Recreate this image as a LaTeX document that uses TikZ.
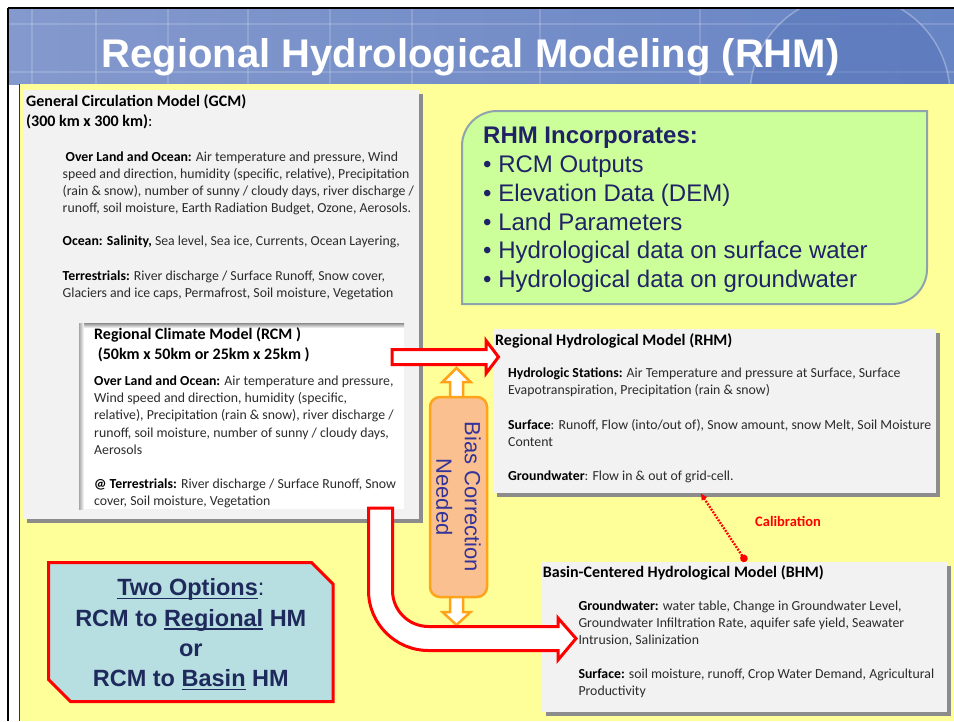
\documentclass[tikz,border=0pt]{standalone}
\usepackage{fontspec}
\setmainfont{Carlito}
\newfontfamily\arialf{Liberation Sans}
\usetikzlibrary{arrows.meta,shadows}
\definecolor{slideyellow}{HTML}{FFFF99}
\definecolor{boxgray}{HTML}{F2F2F2}
\definecolor{greenfill}{HTML}{CCFF99}
\definecolor{greenedge}{HTML}{8FA3AE}
\definecolor{navy}{HTML}{1F2266}
\definecolor{biasfill}{HTML}{FAC090}
\definecolor{biasedge}{HTML}{FFA31A}
\definecolor{biastext}{HTML}{333399}
\definecolor{optfill}{HTML}{B7DEE0}
\definecolor{opttext}{HTML}{1F2A5C}
\definecolor{bodytext}{HTML}{2B2B2B}
\definecolor{hdrL}{HTML}{8499CD}
\definecolor{hdrR}{HTML}{6784C4}
\definecolor{hdrGlobe}{HTML}{5574B8}
\newcommand{\mylines}[1]{\begin{tabular}[t]{@{}l@{}}#1\end{tabular}}
\newcommand{\mycenter}[1]{\begin{tabular}[t]{@{}c@{}}#1\end{tabular}}
\newcommand{\myul}[1]{\setbox0\hbox{#1}\rlap{\rule[-3.5pt]{\wd0}{1.6pt}}\box0\relax}
\newcommand{\bodyfont}{\fontsize{13.8}{17.3}\selectfont}
\newcommand{\headfont}{\fontsize{16}{20}\selectfont\bfseries}
\tikzset{
  body/.style={inner sep=0pt, anchor=base west, font=\bodyfont, text=bodytext},
  heading/.style={inner sep=0pt, anchor=base west, font=\headfont, text=black},
  panel/.style={fill=boxgray, draw=none, inner sep=0pt, anchor=north west,
    drop shadow={shadow xshift=4pt, shadow yshift=-4pt, fill=black!45, opacity=1}},
  blockarrow/.style={draw=red, line width=3pt, fill=white, line join=miter},
  biasarrow/.style={draw=biasedge, line width=2.5pt, fill=white, line join=miter},
}
\begin{document}
\begin{tikzpicture}[x=1pt,y=-1pt]
\useasboundingbox (0,0) rectangle (954,721);
\fill[white] (0,0) rectangle (954,721);
% header
\shade[left color=hdrL, right color=hdrR] (9,9) rectangle (954,84);
\begin{scope}
  \clip (9,9) rectangle (954,84);
  \foreach \gx in {32,96,168,248,330,412,540,700}
    \draw[white, opacity=.16, line width=1.2pt] (\gx,9) -- (\gx,84);
  \foreach \gy in {24,72}
    \draw[white, opacity=.16, line width=1.2pt] (9,\gy) -- (954,\gy);
  \fill[hdrGlobe, opacity=.45] (850,95) circle[radius=100];
  \draw[white, opacity=.3, line width=1.5pt] (850,95) circle[radius=100];
\end{scope}
\draw[black, line width=1.5pt] (8,8) -- (954,8);
\draw[black, line width=1.5pt] (8,8) -- (8,721);
% slide body
\fill[slideyellow] (20,84) rectangle (954,721);
\draw[black!80, line width=1pt] (19.5,84) -- (19.5,721);
\node[font=\arialf\bfseries\fontsize{40}{48}\selectfont, text=white, anchor=base, inner sep=0pt]
  (title) at (470.5,67) {Regional Hydrological Modeling (RHM)};

% GCM panel
\node[panel, minimum width=396pt, minimum height=429pt] (gcm) at (22.5,90) {};
% RCM panel
\node[fill=white, inner sep=0pt, anchor=north west, minimum width=325pt, minimum height=186pt] (rcm) at (79,323) {};
\shade[top color=black!45, bottom color=white] (79,323) rectangle (404,328);
\shade[left color=black!35, right color=white] (79,323) rectangle (84,509);

% RHM panel
\node[panel, minimum width=443pt, minimum height=164pt] (rhm) at (493,329) {};
% BHM panel
\node[panel, minimum width=405pt, minimum height=150pt] (bhm) at (542,562) {};

% green box
\path[fill=greenfill, draw=greenedge, line width=2pt]
  (462,146) arc[start angle=180, end angle=270, radius=35] -- (927,111) -- (927,269)
  arc[start angle=0, end angle=90, radius=35] -- (462,304) -- cycle;
\node[inner sep=0pt, anchor=base west, text=navy, font=\arialf\fontsize{24}{28.9}\selectfont]
  (incorp) at (483,143.3) {\mylines{\textbf{RHM Incorporates:}\\
  \textbullet\ RCM Outputs\\
  \textbullet\ Elevation Data (DEM)\\
  \textbullet\ Land Parameters\\
  \textbullet\ Hydrological data on surface water\\
  \textbullet\ Hydrological data on groundwater}};

% two options box
\path[fill=optfill, draw=red, line width=3pt, line join=miter]
  (48.5,562.5) -- (311.5,562.5) -- (333,584) -- (333,701.5) -- (70.5,701.5) -- (48.5,679.5) -- cycle;
\node[inner sep=0pt, anchor=base, text=opttext, font=\arialf\bfseries\fontsize{23.5}{30.3}\selectfont]
  (options) at (190.8,595.7) {\mycenter{\myul{Two Options}{\mdseries:}\\
  RCM to \myul{Regional} HM\\ or\\ RCM to \myul{Basin} HM}};

% bias correction up-down arrow and box
\path[biasarrow] (456.5,368) -- (470.5,382) -- (463,382) -- (463,612) -- (470.5,612)
  -- (456.5,625) -- (442.5,612) -- (450,612) -- (450,382) -- (442.5,382) -- cycle;
\node[draw=biasedge, fill=biasfill, line width=2.5pt, rounded corners=10pt,
  minimum width=200pt, minimum height=57pt, rotate=-90, align=center, inner sep=0pt,
  text=biastext, font=\arialf\fontsize{22}{28.3}\selectfont]
  (bias) at (458.5,497) {Bias Correction\\Needed};

% GCM texts
\node[heading] (gcmt) at (26,106) {\mylines{General Circulation Model (GCM)\\(300 km x 300 km)\mdseries:}};
\node[body] (gcm1) at (62.5,161) {\mylines{\hspace*{3pt}\textbf{\color{black}Over Land and Ocean:} Air temperature and pressure,  Wind\\
speed and direction, humidity (specific, relative), Precipitation\\
(rain \& snow), number of sunny / cloudy days, river discharge /\\
runoff, soil moisture, Earth Radiation Budget, Ozone, Aerosols.}};
\node[body] (gcm2) at (62.5,245) {\textbf{\color{black}Ocean: Salinity,} Sea level, Sea ice, Currents, Ocean Layering,};
\node[body] (gcm3) at (62.5,280) {\mylines{\textbf{\color{black}Terrestrials:} River discharge / Surface Runoff, Snow cover,\\
Glaciers and ice caps, Permafrost, Soil moisture,  Vegetation}};

% RCM texts
\node[heading] (rcmt) at (94,339) {\mylines{Regional Climate Model (RCM )\\\hspace*{3.6pt}(50km x 50km or 25km x 25km )}};
\node[body, font=\fontsize{13.8}{17.1}\selectfont] (rcm1) at (94,385.7) {\mylines{\textbf{\color{black}Over Land and Ocean:} Air temperature and pressure,\\
Wind speed and direction, humidity (specific,\\
relative), Precipitation (rain \& snow), river discharge /\\
runoff, soil moisture,  number of sunny / cloudy days,\\
Aerosols}};
\node[body, font=\fontsize{13.8}{16.7}\selectfont] (rcm2) at (94,488.3) {\mylines{\textbf{\color{black}@ Terrestrials:} River discharge / Surface Runoff, Snow\\
cover, Soil moisture,  Vegetation}};

% RHM texts
\node[heading] (rhmt) at (495,345) {Regional Hydrological Model (RHM)};
\begin{scope}
  \clip (493,329) rectangle (936,493);
  \node[body, font=\fontsize{13.8}{17.5}\selectfont] (rhm1) at (508,377.3) {\mylines{\textbf{\color{black}Hydrologic Stations:} Air Temperature and pressure at Surface, Surface\\
  Evapotranspiration, Precipitation (rain \& snow)}};
  \node[body, font=\fontsize{13.8}{17.4}\selectfont] (rhm2) at (508,429.3) {\mylines{\textbf{\color{black}Surface}: Runoff, Flow (into/out of), Snow amount, snow Melt, Soil Moisture\\
  Content}};
  \node[body] (rhm3) at (508,480.7) {\textbf{\color{black}Groundwater}: Flow in \& out of grid-cell.};
\end{scope}

% BHM texts
\node[heading] (bhmt) at (542.7,577.3) {Basin-Centered Hydrological Model (BHM)};
\node[body, font=\fontsize{13.8}{16.8}\selectfont] (bhm1) at (578.3,610.7) {\mylines{\textbf{\color{black}Groundwater:} water table, Change in Groundwater Level,\\
Groundwater Infiltration Rate, aquifer safe yield, Seawater\\
Intrusion, Salinization}};
\node[body, font=\fontsize{13.8}{16.7}\selectfont] (bhm2) at (578.3,678.3) {\mylines{\textbf{\color{black}Surface:} soil moisture, runoff, Crop Water Demand, Agricultural\\
Productivity}};

% red block arrow RCM -> RHM
\path[blockarrow] (392,349.5) -- (486,349.5) -- (486,340.5) -- (498.5,357) -- (486,373.5)
  -- (486,364.5) -- (392,364.5) -- cycle;
% curved red block arrow RCM -> BHM
\path[blockarrow] (368.5,508) -- (392.5,508) -- (392.5,590.5)
  arc[start angle=180, end angle=90, radius=36] -- (558,626.5) -- (558,618)
  -- (576,638.5) -- (558,660) -- (558,650.5) -- (428.5,650.5)
  arc[start angle=90, end angle=180, radius=60] -- cycle;

% calibration
\coordinate (calA) at (700.5,493);
\coordinate (calB) at (746,561.5);
\draw[red, line width=2.4pt, dash pattern=on 1.8pt off 1.4pt,
  {Latex[length=7pt,width=7pt]}-{Circle[length=7.5pt]}] (calA) -- (calB);
\node[inner sep=0pt, anchor=base west, text=red, font=\bfseries\fontsize{14.5}{17}\selectfont]
  (calib) at (755,526.7) {Calibration};
\end{tikzpicture}
\end{document}
